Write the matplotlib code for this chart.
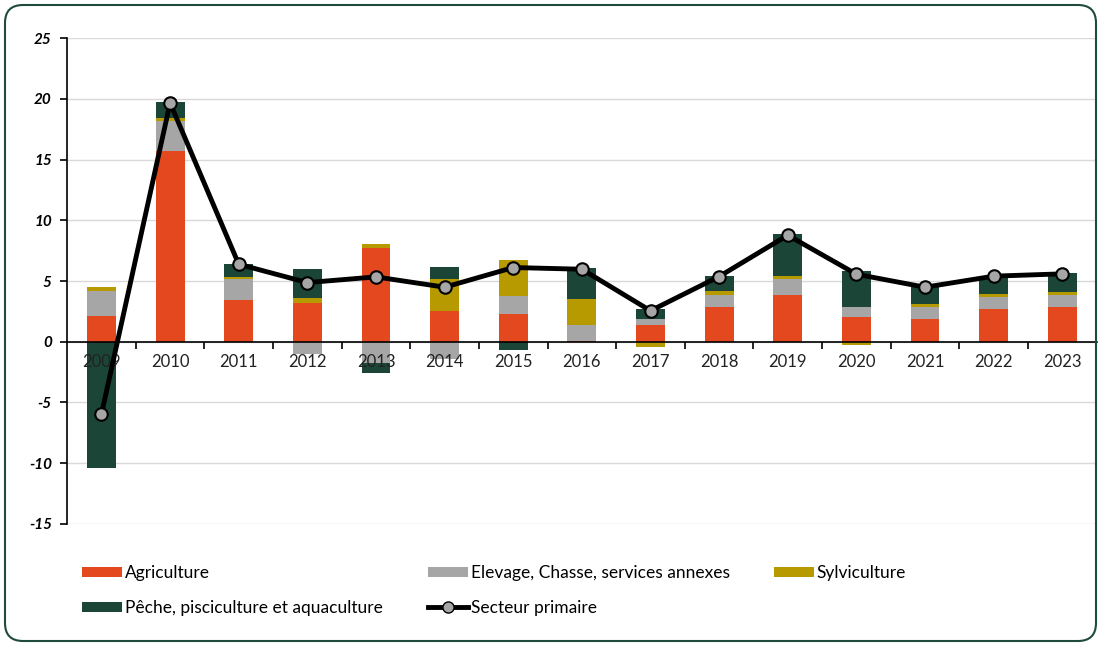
import matplotlib.pyplot as plt
from matplotlib.patches import FancyBboxPatch, Patch
from matplotlib.lines import Line2D
from matplotlib.transforms import IdentityTransform
import numpy as np

plt.rcParams['font.family'] = ['Lato', 'DejaVu Sans']
plt.rcParams['axes.unicode_minus'] = False

years = ['2009', '2010', '2011', '2012', '2013', '2014', '2015', '2016',
         '2017', '2018', '2019', '2020', '2021', '2022', '2023']

# contributions to growth (points)
agriculture = [2.1, 15.7, 3.4, 3.15, 7.75, 2.5, 2.27, 0.1, 1.37, 2.82, 3.86, 2.0, 1.89, 2.71, 2.88]
elevage = [2.1, 2.47, 1.75, -1.0, -1.75, -1.45, 1.53, 1.3, 0.49, 0.99, 1.34, 0.9, 0.99, 0.96, 0.93]
sylviculture = [0.28, 0.28, 0.19, 0.49, 0.33, 2.66, 2.94, 2.11, -0.47, 0.38, 0.19, -0.27, 0.19, 0.22, 0.27]
peche = [-10.4, 1.29, 1.09, 2.39, -0.82, 1.01, -0.66, 2.54, 0.83, 1.23, 3.45, 2.93, 1.61, 1.53, 1.56]
secteur_primaire = [-5.95, 19.66, 6.38, 4.87, 5.34, 4.49, 6.11, 5.97, 2.55, 5.37, 8.77, 5.56, 4.49, 5.40, 5.59]

series = [
    ('Agriculture', agriculture, '#E4481F'),
    ('Elevage, Chasse, services annexes', elevage, '#A6A6A6'),
    ('Sylviculture', sylviculture, '#B69A00'),
    ('Pêche, pisciculture et aquaculture', peche, '#1B4536'),
]

fig = plt.figure(figsize=(11.01, 6.46), dpi=100)
ax = fig.add_axes([0.061, 0.189, 0.935, 0.752])

x = np.arange(len(years))
pos_base = np.zeros(len(years))
neg_base = np.zeros(len(years))
for name, vals, color in series:
    vals = np.array(vals)
    base = np.where(vals >= 0, pos_base, neg_base)
    ax.bar(x, vals, bottom=base, width=0.42, color=color, zorder=2)
    pos_base = pos_base + np.where(vals >= 0, vals, 0)
    neg_base = neg_base + np.where(vals < 0, vals, 0)

ax.plot(x, secteur_primaire, color='black', lw=3.5, marker='o', ms=9,
        markerfacecolor='#A6A6A6', markeredgecolor='black', markeredgewidth=1.5,
        zorder=4)

ax.set_xlim(-0.5, 14.5)
ax.set_ylim(-15, 25)
yticks = list(range(-15, 30, 5))
ax.set_yticks(yticks)
# grid drawn by hand so it stays under the bars while tick labels stay on top
for yv in yticks:
    ax.axhline(yv, color='#D9D9D9', lw=1, zorder=0.5)
ax.set_axisbelow(False)

for s in ['top', 'right']:
    ax.spines[s].set_visible(False)
ax.spines['bottom'].set_position(('data', 0))
ax.spines['left'].set_linewidth(1.2)
ax.spines['bottom'].set_linewidth(1.2)

ax.set_xticks(x)
ax.set_xticklabels(years, fontsize=12, color='#222222')
ax.set_xticks(np.arange(0.5, 14, 1), minor=True)
ax.tick_params(axis='x', which='major', length=0, pad=9)
ax.tick_params(axis='x', which='minor', length=5, width=1.2, direction='out')
ax.tick_params(axis='y', length=5, width=1.2, pad=6)
for lab in ax.get_yticklabels():
    lab.set_fontweight('bold')
    lab.set_fontstyle('italic')
    lab.set_fontsize(11)

# legend in three columns
handles = [Patch(facecolor=c, edgecolor='none') for _, _, c in series]
line_h = Line2D([], [], color='black', lw=3.5, marker='o', ms=8,
                markerfacecolor='#A6A6A6', markeredgecolor='black')
cols = [
    (82, [handles[0], handles[3]], [series[0][0], series[3][0]]),
    (428, [handles[1], line_h], [series[1][0], 'Secteur primaire']),
    (774, [handles[2]], [series[2][0]]),
]
for px, hs, ls in cols:
    fig.legend(hs, ls, loc='upper left', bbox_to_anchor=(px / 1101, 1 - 565 / 646),
               frameon=False, fontsize=12.5, handlelength=2.3, handleheight=0.55,
               handletextpad=0.15, labelspacing=1.1, borderpad=0, borderaxespad=0)

fig.patches.append(FancyBboxPatch((5, 5), 1091, 636, transform=IdentityTransform(),
                                  boxstyle='round,pad=0,rounding_size=18',
                                  facecolor='none', edgecolor='#1F4A3E', lw=1.5))

fig.savefig('out.png', dpi=100)
